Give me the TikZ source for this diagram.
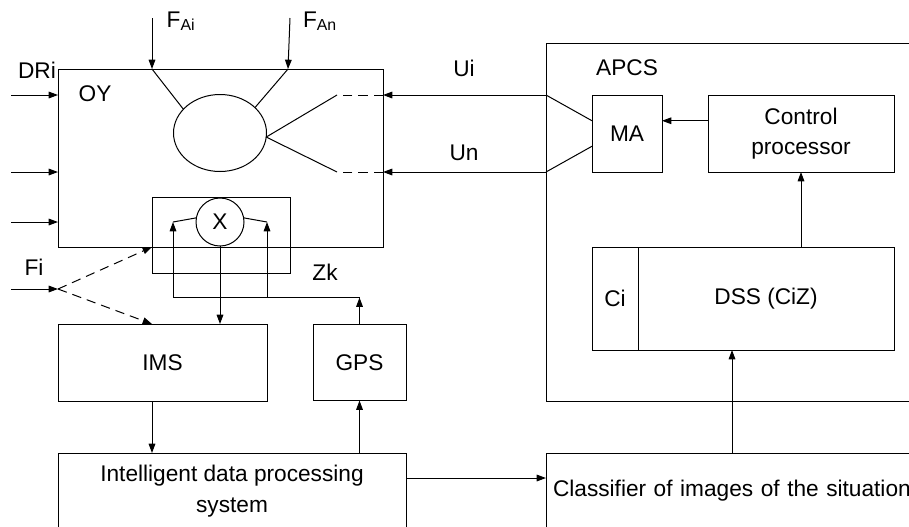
\documentclass[tikz,border=0pt]{standalone}
\usepackage{fontspec}
\setmainfont{Liberation Sans}
\usetikzlibrary{arrows.meta,positioning,shapes.geometric}

\begin{document}
\begin{tikzpicture}[
  x=0.75pt, y=-0.75pt,
  >={Triangle[length=7pt,width=5pt]},
  line width=0.75pt,
  every node/.style={font=\fontsize{17}{23}\selectfont,inner sep=0pt,outer sep=0pt},
  block/.style={draw,align=center},
  hint/.style={dash pattern=on 7pt off 4.5pt}
]
  \useasboundingbox (0,0) rectangle (909,526);
  \clip (0,0) rectangle (909,526);

  \node[block,minimum width=243.75pt,minimum height=133.5pt] (oy) at (220.5,158) {};
  \node[draw,ellipse,minimum width=69.75pt,minimum height=57.75pt] (obj) at (220,133) {};
  \node[block,minimum width=103.5pt,minimum height=57pt] (xbox) at (221,235) {};
  \node[draw,circle,minimum size=36pt] (xc) at (220,222) {X};
  \node[block,minimum width=156.75pt,minimum height=57.75pt] (ims) at (162.5,362.5) {IMS};
  \node[block,minimum width=69.75pt,minimum height=57pt,right=34.5pt of ims] (gps) {GPS};
  \node[block,minimum width=261pt,minimum height=57pt] (idps) at (232,491) {Intelligent data processing\\system};
  \node[block,anchor=north west,minimum width=315pt,minimum height=268.5pt] (apcs) at (546,43) {};
  \node[block,minimum width=52.5pt,minimum height=57.75pt] (ma) at (627,133.5) {MA};
  \node[block,minimum width=139.5pt,minimum height=57.75pt,right=34.5pt of ma] (cp) {Control\\processor};
  \node[block,minimum width=34.5pt,minimum height=77.25pt] (ci) at (615,298.5) {Ci};
  \node[block,minimum width=192pt,minimum height=77.25pt,right=0pt of ci] (dss) {DSS (CiZ)};
  \node[block,anchor=north west,text width=300pt,inner xsep=5.25pt,minimum height=57pt,align=left] (cls) at (546,453) {Classifier of images of the situation};

  \node (oylbl) at (95,94) {OY};
  \node (apcslbl) at (627,68) {APCS};
  \node (drilbl) at (37,70) {DRi};
  \node (filbl) at (34,267) {Fi};
  \node (zklbl) at (325,272) {Zk};
  \node (uilbl) at (464,68) {Ui};
  \node (unlbl) at (464,153) {Un};
  \node (failbl) at (181,21) {F\textsubscript{Ai}};
  \node (fanlbl) at (320,21) {F\textsubscript{An}};

  \coordinate (faitop) at (152,18);
  \coordinate (fai) at (152,69);
  \coordinate (fantop) at (290,18);
  \coordinate (fan) at (288,69);
  \coordinate (ui) at (546,95);
  \coordinate (un) at (546,172);
  \coordinate (uiend) at (337,95);
  \coordinate (unend) at (337,172);
  \coordinate (xl) at (173,222);
  \coordinate (xr) at (267,222);
  \coordinate (fiin) at (11,289);
  \coordinate (fisplit) at (58,289);
  \path (gps.north) ++(0,-27) coordinate (zk);
  \path (idps.east) ++(0,-13) coordinate (idout);
  \path (dss.south) ++(-34,0) coordinate (dssin);

  \foreach \y [count=\i] in {95,172,222} {
    \coordinate (in\i) at (11,\y);
    \draw[->] (in\i) -- (in\i -| oy.west);
  }
  \draw[->] (faitop) -- (fai);
  \draw (fai) -- (obj.147);
  \draw[->] (fantop) -- (fan);
  \draw (fan) -- (obj.36);

  \draw[->] (ui) -- (ui -| oy.east);
  \draw[->] (un) -- (un -| oy.east);
  \draw[hint] (uiend -| oy.east) -- (uiend);
  \draw[hint] (unend -| oy.east) -- (unend);
  \draw (uiend) -- (obj.355) -- (unend);
  \draw (ui) -- (ma.160);
  \draw (un) -- (ma.200);
  \draw[->] (cp.west |- ma.20) -- (ma.20);
  \draw[->] (dss.north -| cp.south) -- (cp.south);
  \draw[->] (dssin |- cls.north) -- (dssin);

  \draw[->] (fiin) -- (fisplit);
  \draw[->,hint] (fisplit) -- (oy.south -| xbox.west);
  \draw[->,hint] (fisplit) -- (ims.north -| xbox.west);

  \draw (xc.170) -- (xl);
  \draw (xc.10) -- (xr);
  \draw[->] (gps.north) -- (zk);
  \draw[->] (zk) -| (xl);
  \draw[->] (zk -| xr) -- (xr);
  \draw[->] (xc.south) -- (ims.north -| xc.south);

  \draw[->] (ims.south -| xbox.west) -- (idps.north -| xbox.west);
  \draw[->] (idps.north -| gps.south) -- (gps.south);
  \draw[->] (idout) -- (idout -| cls.west);
\end{tikzpicture}
\end{document}
